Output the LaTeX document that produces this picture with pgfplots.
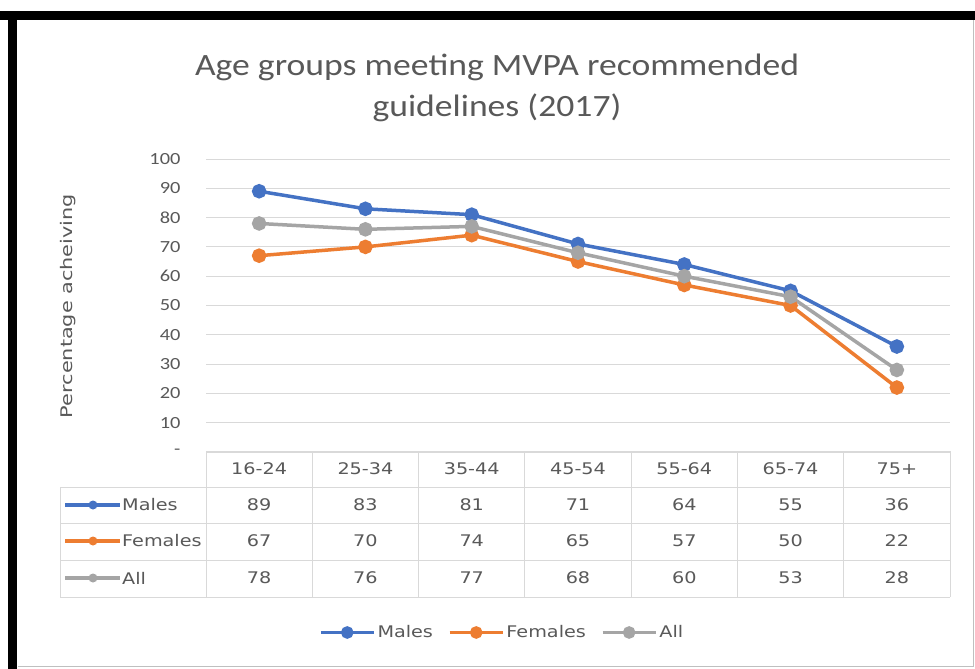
\documentclass[border=0pt]{standalone}
\usepackage{pgfplots}
\pgfplotsset{compat=1.18}
\usepackage{pgfplotstable}
\usepackage{fontspec}
\setmainfont{Carlito}
\newfontfamily\tabfont[FakeStretch=1.2]{DejaVu Sans}
\newfontfamily\ylabfont[FakeStretch=1.3]{DejaVu Sans}
\newfontfamily\titlefont[FakeStretch=1.15]{Carlito}
\newfontfamily\tickfont[FakeStretch=1.2]{Carlito}
\definecolor{cM}{HTML}{4472C4}
\definecolor{cF}{HTML}{ED7D31}
\definecolor{cA}{HTML}{A5A5A5}
\definecolor{txt}{HTML}{595959}
\definecolor{gridc}{HTML}{D9D9D9}

\pgfplotstableread{
x M F A
0 89 67 78
1 83 70 76
2 81 74 77
3 71 65 68
4 64 57 60
5 55 50 53
6 36 22 28
}\data

\begin{document}
\begin{tikzpicture}[x=1pt,y=1pt]
\useasboundingbox (0,0) rectangle (975,-669);
\fill[white] (0,0) rectangle (975,-669);
\fill[black] (0,-11) rectangle (975,-20);
\fill[black] (8,-20) rectangle (17,-669);
\draw[gray!50, line width=1pt] (18,-666.5) -- (973,-666.5) -- (973,-20);

\node[align=center, font=\titlefont\fontsize{31}{41}\selectfont, text=txt] at (497,-88) {Age groups meeting MVPA recommended\\guidelines (2017)};

\begin{axis}[
  at={(206pt,-452pt)}, anchor=south west,
  scale only axis, width=744pt, height=293pt,
  xmin=-0.5, xmax=6.5, ymin=0, ymax=100,
  clip=false,
  axis line style={draw=none},
  /pgf/number format/assume math mode=true,
  ytick={0,10,...,100},
  yticklabels={-,10,20,30,40,50,60,70,80,90,100},
  yticklabel style={font=\tickfont\fontsize{17}{20}\selectfont, text=txt, anchor=east, xshift=-22pt},
  xtick={0,...,6},
  xticklabels={16-24,25-34,35-44,45-54,55-64,65-74,75+},
  xticklabel style={font=\tabfont\fontsize{16}{18}\selectfont, text=txt, anchor=center, yshift=-17pt},
  major tick length=0pt,
  ymajorgrids, grid style={gridc, line width=1pt},
  legend columns=3,
  legend style={at={(0.398,-0.616)}, anchor=center, draw=none, fill=none,
    font=\tabfont\fontsize{16}{18}\selectfont, text=txt,
    /tikz/every even column/.append style={column sep=13pt}},
  legend image code/.code={\draw[#1, mark repeat=2, mark phase=2, mark size=4.5pt] plot coordinates {(0pt,0pt) (26.5pt,0pt) (53pt,0pt)};},
]
\addplot[cM, line width=3.5pt, mark=*, mark size=5.5pt, mark options={solid, fill=cM}] table[x=x,y=M]{\data};
\addlegendentry{Males}
\addplot[cF, line width=3.5pt, mark=*, mark size=5.5pt, mark options={solid, fill=cF}] table[x=x,y=F]{\data};
\addlegendentry{Females}
\addplot[cA, line width=3.5pt, mark=*, mark size=5.5pt, mark options={solid, fill=cA}] table[x=x,y=A]{\data};
\addlegendentry{All}
\addplot[forget plot, draw=none, mark=none, nodes near coords, point meta=explicit,
  nodes near coords style={anchor=center, font=\tabfont\fontsize{16}{18}\selectfont, text=txt}]
  table[x=x, y expr=-18.09, meta=M]{\data};
\addplot[forget plot, draw=none, mark=none, nodes near coords, point meta=explicit,
  nodes near coords style={anchor=center, font=\tabfont\fontsize{16}{18}\selectfont, text=txt}]
  table[x=x, y expr=-30.38, meta=F]{\data};
\addplot[forget plot, draw=none, mark=none, nodes near coords, point meta=explicit,
  nodes near coords style={anchor=center, font=\tabfont\fontsize{16}{18}\selectfont, text=txt}]
  table[x=x, y expr=-43.0, meta=A]{\data};
\end{axis}

% data table grid
\begin{scope}[gridc, line width=1pt]
\draw (206,-451) -- (950,-451);
\foreach \yy in {487,523,560,597} {\draw (60,-\yy) -- (950,-\yy);}
\foreach \k in {0,...,7} {\draw ({206+106.286*\k},-451) -- ({206+106.286*\k},-597);}
\draw (60,-487) -- (60,-597);
\end{scope}
% row keys
\foreach \c/\n/\yy in {cM/Males/505, cF/Females/541, cA/All/578} {
  \draw[\c, line width=3.5pt] (65,-\yy) -- (120,-\yy);
  \fill[\c] (93,-\yy) circle (4.5pt);
  \node[anchor=west, inner sep=0pt, font=\tabfont\fontsize{16}{18}\selectfont, text=txt] at (122,-\yy) {\n};
}
\node[rotate=90, font=\ylabfont\fontsize{16}{18}\selectfont, text=txt] at (68,-306) {Percentage acheiving};
\end{tikzpicture}
\end{document}
